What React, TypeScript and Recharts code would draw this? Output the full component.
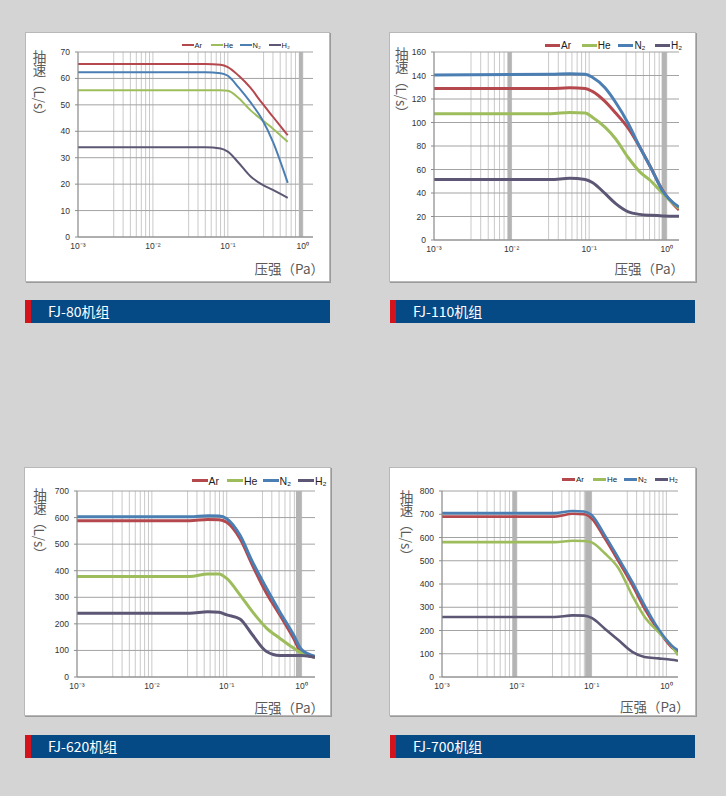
import React from 'react';
import { LineChart, Line, XAxis, YAxis, CartesianGrid, Legend, ReferenceArea } from 'recharts';

// ---------- shared ----------
const seriesKeys = ['ar', 'he', 'n2', 'h2'];
const seriesNames = ['Ar', 'He', 'N₂', 'H₂'];
const seriesColors = ['#b5484d', '#9dbd5c', '#4b7fb3', '#5d5775'];
const xTickValues = [0.001, 0.01, 0.1, 1];
const xTickLabels = ['10⁻³', '10⁻²', '10⁻¹', '10⁰'];
const minorMultipliers = [1, 3, 4, 5, 6, 7, 8, 9];
const decades = [-3, -2, -1, 0];

// ---------- FJ-80 ----------
const fj80Pressure = [0.001, 0.05, 0.08, 0.1, 0.14, 0.2, 0.28, 0.4, 0.63];
const fj80Ar = [65.5, 65.5, 65.2, 64.3, 61, 56.5, 51, 45.5, 38.5];
const fj80He = [55.5, 55.5, 55.5, 55.3, 52.5, 48, 44.5, 41, 36];
const fj80N2 = [62.3, 62.3, 62, 61, 56.5, 51, 45, 36, 20.5];
const fj80H2 = [34, 34, 33.5, 32.3, 28, 23, 20, 17.8, 14.8];
const fj80YTicks = [0, 10, 20, 30, 40, 50, 60, 70];
const fj80Bands = [[0.89, 1.0]];

// ---------- FJ-110 ----------
const fj110Pressure = [0.001, 0.032, 0.056, 0.089, 0.11, 0.16, 0.22, 0.32, 0.45, 0.63, 0.89, 1.44];
const fj110Ar = [129, 129, 129.5, 129, 126.5, 118, 108, 95, 79, 61, 42, 25.5];
const fj110He = [107.5, 107.5, 108.5, 108, 104.5, 96, 86, 70, 58, 50, 39.5, 27];
const fj110N2 = [140.5, 141, 141.5, 141, 138.5, 129.5, 117, 99, 79, 61, 41.5, 28];
const fj110H2 = [51.5, 51.5, 52.5, 51.5, 49, 39.6, 31, 24, 21.8, 21, 20.5, 20.3];
const fj110YTicks = [0, 20, 40, 60, 80, 100, 120, 140, 160];
const fj110Bands = [[0.0089, 0.01], [0.86, 1.0]];

// ---------- FJ-620 ----------
const fj620Pressure = [0.001, 0.032, 0.056, 0.079, 0.1, 0.15, 0.22, 0.34, 0.51, 0.78, 1.0, 1.51];
const fj620Ar = [588, 588, 593, 592, 582, 521, 421, 315, 234, 146, 92, 74];
const fj620He = [378, 378, 388, 388, 371, 309, 246, 184, 146, 109, 90, 74];
const fj620N2 = [603, 603, 607, 606, 596, 534, 434, 334, 246, 159, 103, 78];
const fj620H2 = [240, 240, 246, 244, 234, 218, 159, 96, 81, 81, 81, 74];
const fj620YTicks = [0, 100, 200, 300, 400, 500, 600, 700];
const fj620Bands = [[0.84, 1.0]];

// ---------- FJ-700 ----------
const fj700Pressure = [0.001, 0.032, 0.056, 0.079, 0.1, 0.15, 0.23, 0.35, 0.51, 0.78, 1.17, 1.43];
const fj700Ar = [690, 690, 702, 700, 682, 596, 496, 395, 294, 201, 128, 108];
const fj700He = [580, 580, 586, 585, 579, 532, 467, 350, 259, 194, 135, 93];
const fj700N2 = [705, 705, 714, 712, 697, 610, 510, 409, 309, 208, 136, 115];
const fj700H2 = [258, 258, 265, 264, 254, 208, 158, 108, 86, 80, 74, 70];
const fj700YTicks = [0, 100, 200, 300, 400, 500, 600, 700, 800];
const fj700Bands = [[0.0087, 0.01], [0.082, 0.1]];

const CJK = '"Noto Sans CJK SC", "Noto Sans", sans-serif';
const LATIN = '"Liberation Sans", Arial, sans-serif';

type Spec = {
  title: string;
  pressure: number[];
  series: number[][];
  yTicks: number[];
  bands: number[][];
  xMax: number;
  panel: { left: number; top: number; width: number; height: number };
  margin: { top: number; right: number; left: number; bottom: number };
  yAxisWidth: number;
  lineWidth: number;
  legend: { left: number; top: number; fontSize: number; line: number; pitch: number; thick: number };
  yTitle: { left: number; top: number };
  xTitle: { right: number; top: number };
  bannerLeft: number;
  bannerTop: number;
};

const specs: Spec[] = [
  {
    title: 'FJ-80机组',
    pressure: fj80Pressure,
    series: [fj80Ar, fj80He, fj80N2, fj80H2],
    yTicks: fj80YTicks,
    bands: fj80Bands,
    xMax: 1.37,
    panel: { left: 26, top: 33, width: 303, height: 248 },
    margin: { top: 19, right: 16, left: 0, bottom: 24 },
    yAxisWidth: 52,
    lineWidth: 2,
    legend: { left: 155.5, top: 7.5, fontSize: 7.5, line: 12, pitch: 29, thick: 2 },
    yTitle: { left: 6.5, top: 17 },
    xTitle: { right: 5, top: 228 },
    bannerLeft: 25,
    bannerTop: 300,
  },
  {
    title: 'FJ-110机组',
    pressure: fj110Pressure,
    series: [fj110Ar, fj110He, fj110N2, fj110H2],
    yTicks: fj110YTicks,
    bands: fj110Bands,
    xMax: 1.44,
    panel: { left: 390, top: 33, width: 305, height: 248 },
    margin: { top: 19, right: 16, left: 0, bottom: 21 },
    yAxisWidth: 44,
    lineWidth: 3,
    legend: { left: 155, top: 6.5, fontSize: 10, line: 15, pitch: 36.7, thick: 3 },
    yTitle: { left: 4.7, top: 13.7 },
    xTitle: { right: 11, top: 228 },
    bannerLeft: 390,
    bannerTop: 300,
  },
  {
    title: 'FJ-620机组',
    pressure: fj620Pressure,
    series: [fj620Ar, fj620He, fj620N2, fj620H2],
    yTicks: fj620YTicks,
    bands: fj620Bands,
    xMax: 1.51,
    panel: { left: 25, top: 468, width: 305, height: 247 },
    margin: { top: 23, right: 15, left: 0, bottom: 18 },
    yAxisWidth: 52,
    lineWidth: 3,
    legend: { left: 166.5, top: 6.5, fontSize: 10.5, line: 16, pitch: 35.5, thick: 3 },
    yTitle: { left: 8, top: 20 },
    xTitle: { right: 6, top: 231.5 },
    bannerLeft: 25,
    bannerTop: 735,
  },
  {
    title: 'FJ-700机组',
    pressure: fj700Pressure,
    series: [fj700Ar, fj700He, fj700N2, fj700H2],
    yTicks: fj700YTicks,
    bands: fj700Bands,
    xMax: 1.43,
    panel: { left: 390, top: 468, width: 305, height: 247 },
    margin: { top: 23, right: 17, left: 0, bottom: 18 },
    yAxisWidth: 52,
    lineWidth: 2.6,
    legend: { left: 172, top: 6.5, fontSize: 8, line: 13, pitch: 31, thick: 2.5 },
    yTitle: { left: 9.5, top: 22 },
    xTitle: { right: 5.5, top: 230.5 },
    bannerLeft: 390,
    bannerTop: 735,
  },
];

function xLabel(v: number): string {
  const i = xTickValues.findIndex((t) => Math.abs(Math.log10(t) - Math.log10(v)) < 1e-6);
  return i >= 0 ? xTickLabels[i] : '';
}

function makeLegend(cfg: Spec['legend']) {
  return (props: any) => {
    const payload = [...(props.payload || [])].sort(
      (a: any, b: any) => seriesNames.indexOf(a.value) - seriesNames.indexOf(b.value)
    );
    return (
      <div style={{ display: 'flex', fontFamily: LATIN, fontSize: cfg.fontSize, color: '#222', lineHeight: `${cfg.fontSize + 2}px`, whiteSpace: 'nowrap' }}>
        {payload.map((e: any) => (
          <div key={e.value} style={{ width: cfg.pitch, display: 'flex', alignItems: 'center' }}>
            <span style={{ display: 'inline-block', width: cfg.line, height: cfg.thick, background: e.color, marginRight: 1 }} />
            <span>{e.value}</span>
          </div>
        ))}
      </div>
    );
  };
}

function PumpChart({ spec }: { spec: Spec }) {
  const data = spec.pressure.map((p, i) => {
    const row: Record<string, number> = { p };
    seriesKeys.forEach((k, j) => {
      row[k] = spec.series[j][i];
    });
    return row;
  });
  const gridX: number[] = [];
  decades.forEach((d) => {
    minorMultipliers.forEach((m) => {
      const v = m * Math.pow(10, d);
      if (v <= spec.xMax + 1e-9) gridX.push(v);
    });
  });
  const yMax = spec.yTicks[spec.yTicks.length - 1];
  return (
    <LineChart width={spec.panel.width} height={spec.panel.height} data={data} margin={spec.margin}>
      <CartesianGrid horizontal={false} verticalValues={gridX} stroke="#c9c9c9" strokeWidth={1} />
      <CartesianGrid vertical={false} stroke="#a3a3a3" strokeWidth={1} />
      {spec.bands.map((b, i) => (
        <ReferenceArea key={i} x1={b[0]} x2={b[1]} fill="#b4b4b4" fillOpacity={1} stroke="none" ifOverflow="hidden" />
      ))}
      <XAxis
        dataKey="p"
        type="number"
        scale="log"
        domain={[0.001, spec.xMax]}
        allowDataOverflow
        ticks={xTickValues}
        interval={0}
        tickFormatter={xLabel}
        tickLine={false}
        tickSize={0}
        tickMargin={6}
        height={20}
        axisLine={{ stroke: '#8c8c8c' }}
        tick={{ fontSize: 8.5, fill: '#333', fontFamily: LATIN }}
      />
      <YAxis
        type="number"
        domain={[0, yMax]}
        ticks={spec.yTicks}
        interval={0}
        width={spec.yAxisWidth}
        tickSize={3}
        tickMargin={5}
        axisLine={{ stroke: '#8c8c8c' }}
        tickLine={{ stroke: '#8c8c8c' }}
        tick={{ fontSize: 8.5, fill: '#333', fontFamily: LATIN }}
      />
      <Legend
        layout="vertical"
        align="center"
        verticalAlign="middle"
        content={makeLegend(spec.legend)}
        wrapperStyle={{ left: spec.legend.left, top: spec.legend.top, width: 'auto' }}
      />
      {seriesKeys.map((k, j) => (
        <Line
          key={k}
          dataKey={k}
          name={seriesNames[j]}
          type="monotone"
          stroke={seriesColors[j]}
          strokeWidth={spec.lineWidth}
          dot={false}
          activeDot={false}
          isAnimationActive={false}
        />
      ))}
    </LineChart>
  );
}

export default function App() {
  return (
    <div style={{ position: 'absolute', left: 0, top: 0, width: 726, height: 796, background: '#d4d4d4', overflow: 'hidden' }}>
      {specs.map((spec) => (
        <React.Fragment key={spec.title}>
          <div
            style={{
              position: 'absolute',
              left: spec.panel.left,
              top: spec.panel.top,
              width: spec.panel.width,
              height: spec.panel.height,
              background: '#ffffff',
              boxShadow: '0 0 0 1px #b8b8b8, 1px 1px 0 1px #9a9a9a',
            }}
          >
            <div style={{ position: 'absolute', left: 0, top: 0 }}>
              <PumpChart spec={spec} />
            </div>
            <div
              style={{
                position: 'absolute',
                left: spec.yTitle.left,
                top: spec.yTitle.top,
                writingMode: 'vertical-rl',
                fontFamily: CJK,
                fontSize: 13.5,
                lineHeight: '14px',
                color: '#5a5a5a',
                whiteSpace: 'nowrap',
              }}
            >
              抽速（L/s）
            </div>
            <div
              style={{
                position: 'absolute',
                right: spec.xTitle.right,
                top: spec.xTitle.top,
                fontFamily: CJK,
                fontSize: 13.5,
                lineHeight: '14px',
                color: '#5a5a5a',
                whiteSpace: 'nowrap',
              }}
            >
              压强（Pa）
            </div>
          </div>
          <div
            style={{
              position: 'absolute',
              left: spec.bannerLeft,
              top: spec.bannerTop,
              width: 305,
              height: 23,
              background: '#054a85',
            }}
          >
            <div style={{ position: 'absolute', left: 0, top: 0, width: 6, height: 23, background: '#d4141c' }} />
            <div
              style={{
                position: 'absolute',
                left: 23,
                top: 0,
                height: 23,
                lineHeight: '23px',
                fontFamily: CJK,
                fontSize: 14,
                color: '#ffffff',
                whiteSpace: 'nowrap',
              }}
            >
              {spec.title}
            </div>
          </div>
        </React.Fragment>
      ))}
    </div>
  );
}
